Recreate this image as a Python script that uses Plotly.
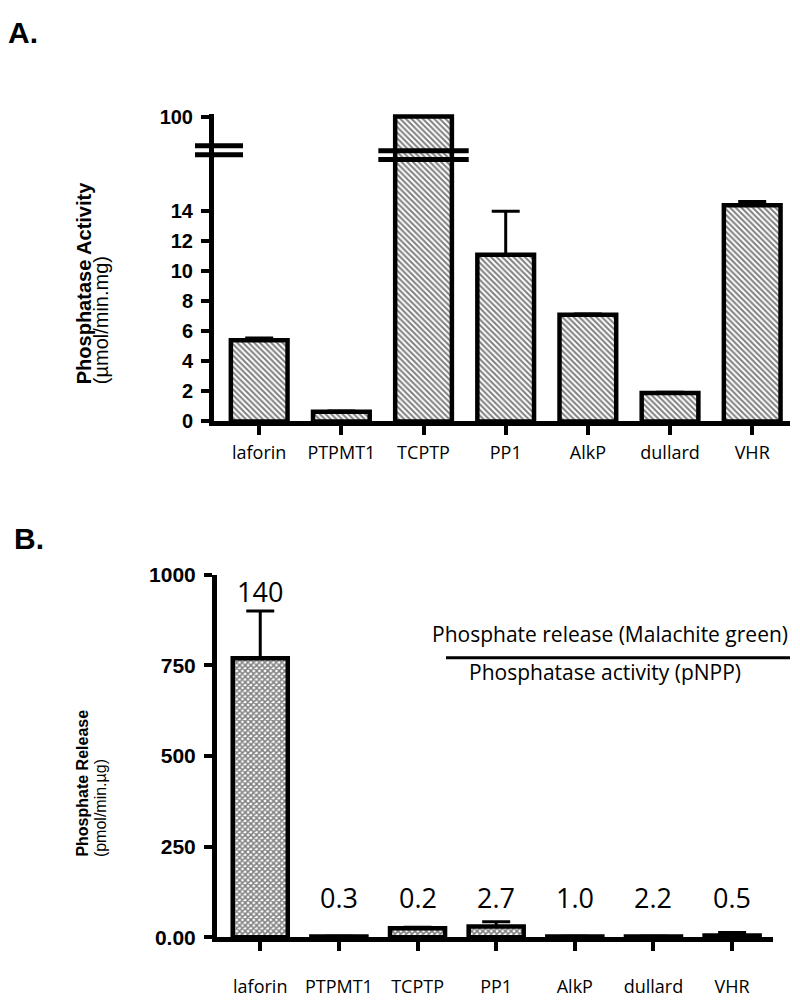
import plotly.graph_objects as go

# ---------------- data ----------------
categories = ["laforin", "PTPMT1", "TCPTP", "PP1", "AlkP", "dullard", "VHR"]
activity = [5.4, 0.65, 100.0, 11.1, 7.1, 1.9, 14.4]          # umol/min.mg
activity_err = [0.15, 0.05, 0.0, 2.9, 0.05, 0.05, 0.25]
release = [770, 2, 25, 30, 2, 2, 5]                          # pmol/min.ug
release_err = [130, 1, 3, 13, 1, 1, 8]
ratio_text = ["140", "0.3", "0.2", "2.7", "1.0", "2.2", "0.5"]
a_ticks_low = [0, 2, 4, 6, 8, 10, 12, 14]
a_ticks_high = [100]
b_ticks = [0, 250, 500, 750, 1000]
b_ticktext = ["0.00", "250", "500", "750", "1000"]

# ---------------- helpers ----------------
W, H = 800, 1003
def fx(p):
    return p / W
def fy(p):
    return 1 - p / H

ARIAL = "Arial, Liberation Sans, sans-serif"
SANS = "Open Sans, sans-serif"

hatch = dict(shape="\\", fgcolor="black", bgcolor="white", size=4, solidity=0.5)
checker = dict(shape="x", fgcolor="black", bgcolor="white", size=4, solidity=0.62)
outline = dict(color="black", width=4.5)

fig = go.Figure()

# Panel A lower segment
fig.add_trace(go.Bar(
    x=categories, y=activity, width=0.69,
    marker=dict(color="white", pattern=hatch, line=outline),
    error_y=dict(type="data", symmetric=False, array=activity_err,
                 arrayminus=[0] * len(categories), color="black",
                 thickness=3, width=14),
    xaxis="x", yaxis="y", showlegend=False, hoverinfo="skip"))
# Panel A upper segment (broken axis)
fig.add_trace(go.Bar(
    x=categories, y=activity, width=0.69,
    marker=dict(color="white", pattern=hatch, line=outline),
    xaxis="x", yaxis="y2", showlegend=False, hoverinfo="skip"))
# Panel B
fig.add_trace(go.Bar(
    x=categories, y=release, width=0.70,
    marker=dict(color="white", pattern=checker, line=outline),
    error_y=dict(type="data", symmetric=False, array=release_err,
                 arrayminus=[0] * len(categories), color="black",
                 thickness=3, width=14),
    xaxis="x3", yaxis="y3", showlegend=False, hoverinfo="skip"))

common = dict(showline=True, linewidth=5, linecolor="black", ticks="outside",
              tickwidth=4, tickcolor="black", showgrid=False, zeroline=False,
              fixedrange=True)
ytick_a = dict(family=ARIAL, size=20, color="black", weight="bold")
ytick_b = dict(family=ARIAL, size=21, color="black", weight="bold")
xtick = dict(family=SANS, size=18, color="black")

fig.update_layout(
    width=W, height=H, margin=dict(l=0, r=0, t=0, b=0),
    paper_bgcolor="white", plot_bgcolor="white", showlegend=False,
    xaxis=dict(domain=[fx(214), fx(790)], range=[-0.55, 6.46], anchor="y",
               ticklen=9, tickfont=xtick, ticklabelstandoff=2, **common),
    yaxis=dict(domain=[fy(419), fy(141)], range=[0, 18.1], anchor="x",
               tickvals=a_ticks_low, ticklen=8, tickfont=ytick_a,
               ticklabelstandoff=4, **common),
    yaxis2=dict(domain=[fy(141), fy(104)], range=[96.5, 100.31], anchor="x",
                tickvals=a_ticks_high, ticklen=8, tickfont=ytick_a,
                ticklabelstandoff=4, **common),
    xaxis3=dict(domain=[fx(217), fx(773)], range=[-0.55, 6.52], anchor="y3",
                ticklen=9, tickfont=xtick, ticklabelstandoff=20, **common),
    yaxis3=dict(domain=[fy(947), fy(576)], range=[0, 1000], anchor="x3",
                tickvals=b_ticks, ticktext=b_ticktext, ticklen=8,
                tickfont=ytick_b, ticklabelstandoff=4, **common),
)

shapes = []
# axis break marks (panel A)
for yp in (137, 146):
    shapes.append(dict(type="line", xref="paper", yref="paper",
                       x0=fx(195), x1=fx(243), y0=fy(yp), y1=fy(yp),
                       line=dict(color="black", width=5)))
tc = categories.index("TCPTP")
for yp in (142, 151):
    shapes.append(dict(type="line", xref="x", yref="paper",
                       x0=tc - 0.55, x1=tc + 0.55, y0=fy(yp), y1=fy(yp),
                       line=dict(color="black", width=5)))
# fraction line (panel B)
shapes.append(dict(type="line", xref="paper", yref="paper",
                   x0=fx(446), x1=fx(790), y0=fy(661), y1=fy(661),
                   line=dict(color="black", width=3)))
fig.update_layout(shapes=shapes)

ann = []
# panel letters
ann.append(dict(text="<b>A.</b>", x=fx(6), y=fy(21), xref="paper", yref="paper",
                xanchor="left", yanchor="middle", showarrow=False,
                font=dict(family=ARIAL, size=30, color="black")))
ann.append(dict(text="<b>B.</b>", x=fx(12), y=fy(539), xref="paper", yref="paper",
                xanchor="left", yanchor="middle", showarrow=False,
                font=dict(family=ARIAL, size=30, color="black")))
# axis titles (panel A)
ann.append(dict(text="<b>Phosphatase Activity</b>", x=fx(84), y=fy(383),
                xref="paper", yref="paper", xanchor="center", yanchor="bottom",
                textangle=-90, showarrow=False,
                font=dict(family=ARIAL, size=20, color="black")))
ann.append(dict(text="(\u00b5mol/min.mg)", x=fx(101), y=fy(383),
                xref="paper", yref="paper", xanchor="center", yanchor="bottom",
                textangle=-90, showarrow=False,
                font=dict(family=ARIAL, size=20, color="black")))
# axis titles (panel B)
ann.append(dict(text="<b>Phosphate Release</b>", x=fx(83), y=fy(867),
                xref="paper", yref="paper", xanchor="center", yanchor="bottom",
                textangle=-90, showarrow=False,
                font=dict(family=ARIAL, size=16, color="black")))
ann.append(dict(text="(pmol/min.\u00b5g)", x=fx(100), y=fy(867),
                xref="paper", yref="paper", xanchor="center", yanchor="bottom",
                textangle=-90, showarrow=False,
                font=dict(family=ARIAL, size=16, color="black")))
# ratio labels above bars (panel B)
for cat, v, e, t in zip(categories, release, release_err, ratio_text):
    ann.append(dict(text=t, x=cat, y=max(v + e + 55, 111), xref="x3", yref="y3",
                    xanchor="center", yanchor="middle", showarrow=False,
                    font=dict(family=SANS, size=27, color="black")))
# fraction text
ann.append(dict(text="Phosphate release (Malachite green)", x=fx(610), y=fy(637),
                xref="paper", yref="paper", xanchor="center", yanchor="middle",
                showarrow=False, font=dict(family=SANS, size=21, color="black")))
ann.append(dict(text="Phosphatase activity (pNPP)", x=fx(605), y=fy(676),
                xref="paper", yref="paper", xanchor="center", yanchor="middle",
                showarrow=False, font=dict(family=SANS, size=21, color="black")))
fig.update_layout(annotations=ann)

fig.write_html("out.html", config={"displayModeBar": False},
               post_script="document.body.style.margin='0';document.body.style.overflow='hidden';")
